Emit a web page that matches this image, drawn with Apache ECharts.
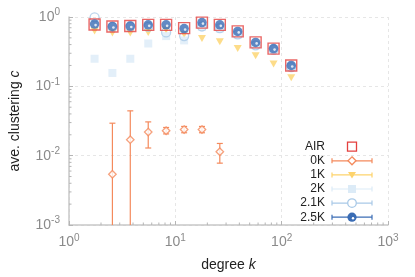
<!DOCTYPE html>
<html><head><meta charset="utf-8">
<script src="https://cdn.jsdelivr.net/npm/echarts@6/dist/echarts.min.js"></script>
<style>html,body{margin:0;padding:0;background:#fff}#c{width:415px;height:277px}</style>
</head><body><div id="c"></div>
<script>
// degree bins k
var degreeK = [1.74, 2.56, 3.77, 5.56, 8.19, 12.1, 17.8, 26.2, 38.6, 56.9, 83.9, 123];
var airC   = [0.78, 0.73, 0.74, 0.77, 0.77, 0.69, 0.83, 0.77, 0.62, 0.43, 0.35, 0.20];
var c0K    = [null, 0.0054, 0.017, 0.0219, 0.0229, 0.0238, 0.0238, 0.0114, null, null, null, null];
var c0KLow = [null, 0, 0, 0.0129, 0.0206, 0.0214, 0.0214, 0.0078, null, null, null, null];
var c0KUp  = [null, 0.0294, 0.0443, 0.0307, 0.0255, 0.0264, 0.0264, 0.015, null, null, null, null];
var c1K    = [0.63, 0.59, 0.59, 0.60, 0.65, 0.56, 0.49, 0.44, 0.35, 0.275, 0.21, 0.133];
var c2K    = [0.25, 0.156, 0.25, 0.415, 0.53, 0.46, 0.72, 0.68, 0.55, 0.39, 0.34, 0.19];
var c21K   = [0.99, 0.72, 0.73, 0.72, 0.60, 0.53, 0.73, 0.69, 0.56, 0.39, 0.34, 0.19];
var c25K   = [0.79, 0.73, 0.74, 0.77, 0.77, 0.68, 0.83, 0.77, 0.62, 0.43, 0.35, 0.20];
var xTicks = [1, 10, 100, 1000];
var yTicks = [0.001, 0.01, 0.1, 1];
var xMinorTicks = [2,3,4,5,6,7,8,9,20,30,40,50,60,70,80,90,200,300,400,500,600,700,800,900];
var yMinorTicks = [0.002,0.003,0.004,0.005,0.006,0.007,0.008,0.009,0.02,0.03,0.04,0.05,0.06,0.07,0.08,0.09,0.2,0.3,0.4,0.5,0.6,0.7,0.8,0.9];
var legendNames = ['AIR', '0K', '1K', '2K', '2.1K', '2.5K'];

var COL = {air:'#e4403f', k0:'#f48a5c', k1:'#fdd36c', k2:'#dcebf7', k21:'#a9c9e7', k25:'#3b6db5'};
var FONT = 'Liberation Sans, Arial, Helvetica, sans-serif';

function pairs(ys){ var out=[]; for(var i=0;i<degreeK.length;i++){ if(ys[i]!=null) out.push([degreeK[i], ys[i]]);} return out; }
function errData(){ var out=[]; for(var i=0;i<degreeK.length;i++){ if(c0K[i]!=null) out.push([degreeK[i], c0KLow[i], c0KUp[i]]);} return out; }

function supLabel(v){
  var e = Math.round(Math.log10(v));
  return '{b|10}{s|' + e + '}';
}
var richTick = {
  b:{fontSize:14, color:'#8a8a8a', fontFamily:FONT},
  s:{fontSize:10, color:'#8a8a8a', fontFamily:FONT, padding:[0,0,9,0]}
};

var chart = echarts.init(document.getElementById('c'), null, {renderer:'canvas'});

var legendGraphics = [];
var lx = 352, ly0 = 146.7, ldy = 14.1;
legendNames.forEach(function(n, i){
  var y = ly0 + i*ldy;
  legendGraphics.push({type:'text', x:325, y:y, style:{text:n, fill:'#222', font:'12px '+FONT, textAlign:'right', textVerticalAlign:'middle'}});
});
function lineWithCaps(y, color, op){
  return [
    {type:'line', shape:{x1:332,y1:y,x2:372,y2:y}, style:{stroke:color, lineWidth:1.2, opacity:op}},
    {type:'line', shape:{x1:332,y1:y-2.5,x2:332,y2:y+2.5}, style:{stroke:color, lineWidth:1.2, opacity:op}},
    {type:'line', shape:{x1:372,y1:y-2.5,x2:372,y2:y+2.5}, style:{stroke:color, lineWidth:1.2, opacity:op}}
  ];
}
var yy;
yy = ly0; legendGraphics.push({type:'rect', shape:{x:lx-4.5,y:yy-4.5,width:9,height:9}, style:{stroke:COL.air, fill:'#fff', lineWidth:1.3}});
yy = ly0+ldy; legendGraphics = legendGraphics.concat(lineWithCaps(yy, COL.k0, 1));
legendGraphics.push({type:'polygon', shape:{points:[[lx,yy-4],[lx+4,yy],[lx,yy+4],[lx-4,yy]]}, style:{stroke:COL.k0, fill:'#fff', lineWidth:1.3}});
yy = ly0+2*ldy; legendGraphics = legendGraphics.concat(lineWithCaps(yy, COL.k1, 1));
legendGraphics.push({type:'polygon', shape:{points:[[lx-4,yy-3],[lx+4,yy-3],[lx,yy+3.5]]}, style:{fill:COL.k1}});
yy = ly0+3*ldy; legendGraphics = legendGraphics.concat(lineWithCaps(yy, COL.k2, 1));
legendGraphics.push({type:'rect', shape:{x:lx-4,y:yy-4,width:8,height:8}, style:{fill:COL.k2}});
yy = ly0+4*ldy; legendGraphics = legendGraphics.concat(lineWithCaps(yy, COL.k21, 1));
legendGraphics.push({type:'circle', shape:{cx:lx,cy:yy,r:4.3}, style:{stroke:COL.k21, fill:'#fff', lineWidth:1.3}});
yy = ly0+5*ldy; legendGraphics = legendGraphics.concat(lineWithCaps(yy, COL.k25, 1));
legendGraphics.push({type:'circle', shape:{cx:lx,cy:yy,r:4.6}, style:{fill:COL.k25}});
legendGraphics.push({type:'circle', shape:{cx:lx+1,cy:yy+1,r:1.2}, style:{fill:'#fff'}});

function minorTickSeries(vals, isX){
  return {type:'custom', data:vals.map(function(v){return [v];}), clip:false, silent:true, z:1,
    renderItem:function(params, api){
      var cs = params.coordSys;
      var st = {stroke:'#b5b5b5', lineWidth:1};
      if (isX){
        var x = api.coord([api.value(0), 1])[0];
        var yb = cs.y + cs.height;
        return {type:'line', shape:{x1:x,y1:yb,x2:x,y2:yb-2.5}, style:st};
      } else {
        var y = api.coord([1, api.value(0)])[1];
        return {type:'line', shape:{x1:cs.x,y1:y,x2:cs.x+2.5,y2:y}, style:st};
      }
    },
    encode: isX ? {x:0} : {y:0}
  };
}

var option = {
  animation:false,
  backgroundColor:'#fff',
  grid:{left:63, right:27, top:17, bottom:48, containLabel:false},
  xAxis:{
    type:'log', logBase:10, min:1, max:1000,
    name:'degree {i|k}', nameLocation:'middle', nameGap:33,
    nameTextStyle:{fontSize:14, color:'#222', fontFamily:FONT, rich:{i:{fontSize:14, fontStyle:'italic', color:'#222', fontFamily:FONT}}},
    axisLine:{show:true, lineStyle:{color:'#c8c8c8', width:1.5}},
    axisTick:{show:true, inside:true, length:4, lineStyle:{color:'#b5b5b5'}},
    minorTick:{show:false},
    axisLabel:{formatter:supLabel, rich:richTick, margin:8},
    splitLine:{show:true, lineStyle:{color:'#e6e6e6', type:[3,3], width:1}}
  },
  yAxis:{
    type:'log', logBase:10, min:0.001, max:1,
    name:'ave. clustering {i|c}', nameLocation:'middle', nameGap:47, nameRotate:90,
    nameTextStyle:{fontSize:14, color:'#222', fontFamily:FONT, rich:{i:{fontSize:14, fontStyle:'italic', color:'#222', fontFamily:FONT}}},
    axisLine:{show:true, lineStyle:{color:'#c8c8c8', width:1.5}},
    axisTick:{show:true, inside:true, length:4, lineStyle:{color:'#b5b5b5'}},
    minorTick:{show:false},
    axisLabel:{formatter:supLabel, rich:richTick, margin:9},
    splitLine:{show:true, lineStyle:{color:'#e6e6e6', type:[3,3], width:1}}
  },
  series:[
    minorTickSeries(xMinorTicks, true),
    minorTickSeries(yMinorTicks, false),
    {type:'custom', name:'0K err', data:errData(), clip:true, z:2,
      renderItem:function(params, api){
        var cs = params.coordSys;
        var x = api.coord([api.value(0), 1])[0];
        var lo = api.value(1), hi = api.value(2);
        var yb = cs.y + cs.height;
        var yLo = lo > 0 ? api.coord([api.value(0), lo])[1] : yb;
        var yHi = api.coord([api.value(0), hi])[1];
        var st = {stroke:COL.k0, lineWidth:1.2};
        var ch = [{type:'line', shape:{x1:x,y1:yLo,x2:x,y2:yHi}, style:st},
                  {type:'line', shape:{x1:x-3,y1:yHi,x2:x+3,y2:yHi}, style:st}];
        if (lo > 0) ch.push({type:'line', shape:{x1:x-3,y1:yLo,x2:x+3,y2:yLo}, style:st});
        return {type:'group', children:ch};
      }},
    {type:'scatter', name:'0K', data:pairs(c0K), symbol:'diamond', symbolSize:[7.5,7.5], z:3,
      itemStyle:{color:'#fff', borderColor:COL.k0, borderWidth:1.3}},
    {type:'scatter', name:'1K', data:pairs(c1K), symbol:'triangle', symbolRotate:180, symbolSize:[8,7], z:3,
      itemStyle:{color:COL.k1}},
    {type:'scatter', name:'2K', data:pairs(c2K), symbol:'rect', symbolSize:8, z:3,
      itemStyle:{color:COL.k2}},
    {type:'scatter', name:'2.1K', data:pairs(c21K), symbol:'circle', symbolSize:9, z:4,
      itemStyle:{color:'rgba(255,255,255,0)', borderColor:COL.k21, borderWidth:1.3}},
    {type:'scatter', name:'AIR', data:pairs(airC), symbol:'rect', symbolSize:11, z:5,
      itemStyle:{color:'rgba(255,255,255,0)', borderColor:COL.air, borderWidth:1.4}},
    {type:'scatter', name:'2.5K', data:pairs(c25K), symbol:'circle', symbolSize:9.5, z:6,
      itemStyle:{color:COL.k25}},
    {type:'scatter', name:'2.5K hl', data:pairs(c25K), symbol:'circle', symbolSize:2.6, symbolOffset:[1,1], z:7, silent:true,
      itemStyle:{color:'#fff'}}
  ],
  graphic:legendGraphics
};
chart.setOption(option);
</script>
</body></html>
